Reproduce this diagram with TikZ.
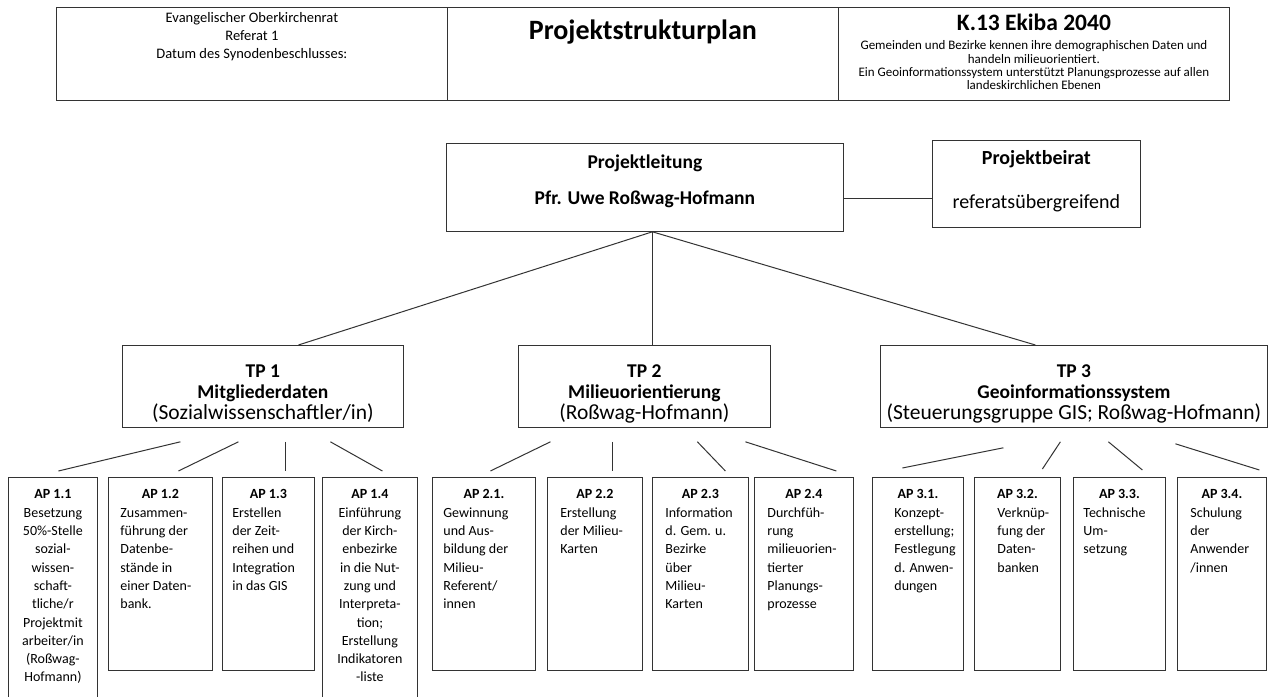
\documentclass[tikz,border=0pt]{standalone}
\usepackage{fontspec}
\setmainfont{Carlito}
\usetikzlibrary{positioning}

% text column of a box: width, height, top gap, contents
\newcommand{\boxcol}[4]{\parbox[c][#2][t]{#1}{\vspace*{#3}#4}}
% sub-project: width, title, topic, lead
\newcommand{\tptext}[4]{\boxcol{#1}{82pt}{17pt}{\centering\fontsize{19.5}{21}\selectfont
  \bfseries\strut #2\\ #3\\ {\mdseries\fontsize{21.5}{21}\selectfont #4}}}
% work package: width, height, indent, title, lines
\newcommand{\wptext}[5]{\boxcol{#1}{#2}{8.7pt}{\fontsize{14}{18.3}\selectfont
  {\centering\bfseries\strut #4\par}\leftskip=#3\relax #5}}

\begin{document}
\begin{tikzpicture}[x=1pt, y=-1pt, line width=0.8pt,
    frame/.style={draw=black!80, inner sep=0pt, anchor=north west},
    link/.style={draw=black!80, line width=1pt}]
    \fill[white] (0,0) rectangle (1271,696);
    \useasboundingbox (0,0) rectangle (1271,696);

    % header
    \node[frame] (hdrL) at (56,7) {\boxcol{391pt}{93pt}{2.4pt}{\centering
        \fontsize{14.5}{18}\selectfont\strut Evangelischer Oberkirchenrat\\
        Referat 1\\ Datum des Synodenbeschlusses:}};
    \node[frame] (hdrM) at (447,7) {\boxcol{391pt}{93pt}{8pt}{\centering
        \fontsize{28}{34}\selectfont\bfseries\strut Projektstrukturplan}};
    \node[frame] (hdrR) at (838,7) {\boxcol{391pt}{93pt}{3pt}{\centering
        \fontsize{23.5}{28}\selectfont\bfseries\strut K.13 Ekiba 2040\par
        \vspace{1.5pt}\fontsize{13}{13.3}\selectfont\mdseries
        Gemeinden und Bezirke kennen ihre demographischen Daten und\\
        handeln milieuorientiert.\\
        Ein Geoinformationssystem unterstützt Planungsprozesse auf allen\\
        landeskirchlichen Ebenen}};

    % project lead
    \node[frame] (lead) at (446,143) {\boxcol{397pt}{88pt}{0pt}{\centering
        \fontsize{19.5}{36}\selectfont\bfseries\strut Projektleitung\\
        Pfr. Uwe Roßwag-Hofmann}};
    \node[frame] (board) at (932,140) {\boxcol{208pt}{87pt}{7.2pt}{\centering
        \fontsize{20}{24}\selectfont\bfseries\strut Projektbeirat\par
        \vspace{20pt}\mdseries referatsübergreifend}};

    % sub-projects
    \node[frame] (tp1) at (122,345) {\tptext{281pt}{TP 1}{Mitgliederdaten}{(Sozialwissenschaftler/in)}};
    \node[frame] (tp2) at (518,345) {\tptext{252pt}{TP 2}{Milieuorientierung}{(Roßwag-Hofmann)}};
    \node[frame] (tp3) at (880,345) {\tptext{387pt}{TP 3}{Geoinformationssystem}{(Steuerungsgruppe GIS; Roßwag-Hofmann)}};

    % work packages
    \node[frame] (ap11) at (8,477) {\wptext{89pt}{225pt}{0pt}{AP 1.1}{\centering
        Besetzung\\ 50\%-Stelle\\ sozial-\\ wissen-\\ schaft-\\ tliche/r\\
        Projektmit\\ arbeiter/in\\ (Roßwag-\\ Hofmann)}};
    \node[frame] (ap12) at (108,477) {\wptext{104pt}{193pt}{12pt}{AP 1.2}{%
        Zusammen-\\ führung der\\ Datenbe-\\ stände in\\ einer Daten-\\ bank.}};
    \node[frame] (ap13) at (222,477) {\wptext{92pt}{193pt}{10pt}{AP 1.3}{%
        Erstellen\\ der Zeit-\\ reihen und\\ Integration\\ in das GIS}};
    \node[frame] (ap14) at (322,477) {\wptext{95pt}{225pt}{0pt}{AP 1.4}{\centering
        Einführung\\ der Kirch-\\ enbezirke\\ in die Nut-\\ zung und\\
        Interpreta-\\ tion;\\ Erstellung\\ Indikatoren\\ -liste}};
    \node[frame] (ap21) at (432,477) {\wptext{103pt}{193pt}{11pt}{AP 2.1.}{%
        Gewinnung\\ und Aus-\\ bildung der\\ Milieu-\\ Referent/\\ innen}};
    \node[frame] (ap22) at (547,477) {\wptext{95pt}{193pt}{13pt}{AP 2.2}{%
        Erstellung\\ der Milieu-\\ Karten}};
    \node[frame] (ap23) at (652,477) {\wptext{96pt}{193pt}{13pt}{AP 2.3}{%
        Information\\ d. Gem. u.\\ Bezirke\\ über\\ Milieu-\\ Karten}};
    \node[frame] (ap24) at (754,477) {\wptext{99pt}{193pt}{13pt}{AP 2.4}{%
        Durchfüh-\\ rung\\ milieuorien-\\ tierter\\ Planungs-\\ prozesse}};
    \node[frame] (ap31) at (872,477) {\wptext{91pt}{193pt}{22pt}{AP 3.1.}{%
        Konzept-\\ erstellung;\\ Festlegung\\ d. Anwen-\\ dungen}};
    \node[frame] (ap32) at (974,477) {\wptext{86pt}{193pt}{23pt}{AP 3.2.}{%
        Verknüp-\\ fung der\\ Daten-\\ banken}};
    \node[frame] (ap33) at (1073,477) {\wptext{92pt}{193pt}{10pt}{AP 3.3.}{%
        Technische\\ Um-\\ setzung}};
    \node[frame] (ap34) at (1177,477) {\wptext{89pt}{193pt}{13pt}{AP 3.4.}{%
        Schulung\\ der\\ Anwender\\ /innen}};

    % connectors
    \draw[link] ([yshift=-11pt]lead.east) -- ([yshift=-14.5pt]board.west);
    \draw[link] ([xshift=7.5pt]lead.south) -- ([xshift=35.5pt]tp1.north);
    \draw[link] ([xshift=7.5pt]lead.south) -- ([xshift=8pt]tp2.north);
    \draw[link] ([xshift=7.5pt]lead.south) -- ([xshift=-38.5pt]tp3.north);

    \draw[link] ([shift={(-82.5pt,-14pt)}]tp1.south) -- ([shift={(5.5pt,6pt)}]ap11.north);
    \draw[link] ([shift={(-24.5pt,-14pt)}]tp1.south) -- ([shift={(18pt,6pt)}]ap12.north);
    \draw[link] ([shift={(22.5pt,-14pt)}]tp1.south) -- ([shift={(17pt,6pt)}]ap13.north);
    \draw[link] ([shift={(67.5pt,-14pt)}]tp1.south) -- ([shift={(12.5pt,6pt)}]ap14.north);

    \draw[link] ([shift={(-94pt,-14pt)}]tp2.south) -- ([shift={(6.5pt,6pt)}]ap21.north);
    \draw[link] ([shift={(-32pt,-14pt)}]tp2.south) -- ([shift={(17.5pt,6pt)}]ap22.north);
    \draw[link] ([shift={(53pt,-14pt)}]tp2.south) -- ([shift={(25pt,6pt)}]ap23.north);
    \draw[link] ([shift={(101pt,-14pt)}]tp2.south) -- ([shift={(32.5pt,6pt)}]ap24.north);

    \draw[link] ([shift={(-70.5pt,-20pt)}]tp3.south) -- ([shift={(-15.5pt,9pt)}]ap31.north);
    \draw[link] ([shift={(-13.5pt,-14pt)}]tp3.south) -- ([shift={(25pt,8pt)}]ap32.north);
    \draw[link] ([shift={(34.5pt,-14pt)}]tp3.south) -- ([shift={(23pt,7pt)}]ap33.north);
    \draw[link] ([shift={(101.5pt,-16pt)}]tp3.south) -- ([shift={(37.5pt,7pt)}]ap34.north);
\end{tikzpicture}
\end{document}
